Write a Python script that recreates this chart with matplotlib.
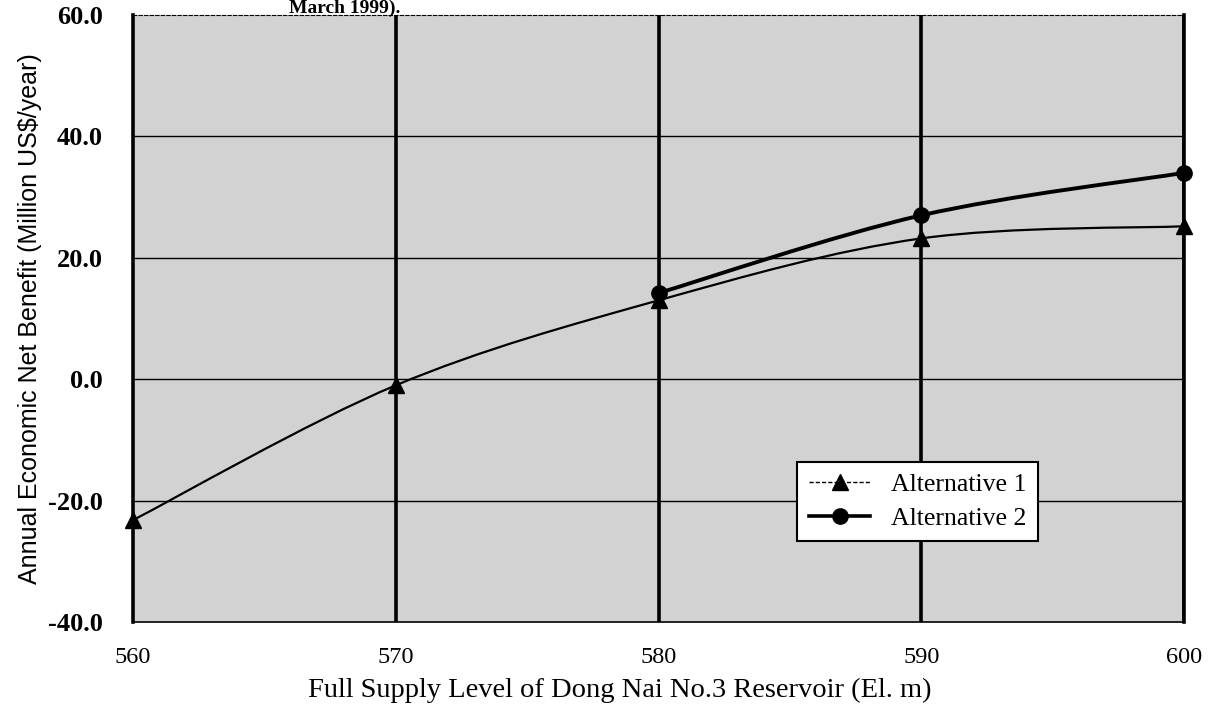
import numpy as np
import matplotlib
matplotlib.use('Agg')
import matplotlib.pyplot as plt
from matplotlib.path import Path
from matplotlib.patches import PathPatch
from matplotlib.lines import Line2D

# data
levels_alt1 = [560, 570, 580, 590, 600]
benefit_alt1 = [-23.2, -1.0, 13.0, 23.2, 25.2]
levels_alt2 = [580, 590, 600]
benefit_alt2 = [14.2, 27.0, 34.0]

x_ticks = [560, 570, 580, 590, 600]
y_ticks = [-40, -20, 0, 20, 40, 60]


def smooth_path(xs, ys):
    # Excel style smoothed line: cubic bezier through the points (Catmull-Rom)
    pts = np.column_stack([xs, ys]).astype(float)
    verts = [pts[0]]
    codes = [Path.MOVETO]
    n = len(pts)
    for i in range(n - 1):
        p0 = pts[i - 1] if i > 0 else pts[i]
        p1 = pts[i]
        p2 = pts[i + 1]
        p3 = pts[i + 2] if i + 2 < n else pts[i + 1]
        c1 = p1 + (p2 - p0) / 6.0
        c2 = p2 - (p3 - p1) / 6.0
        verts += [c1, c2, p2]
        codes += [Path.CURVE4] * 3
    return Path(verts, codes)


fig = plt.figure(figsize=(12.1, 7.15), dpi=100)
ax = fig.add_axes([0.110, 0.130, 0.8685, 0.849])
ax.set_facecolor('#d2d2d2')

ax.set_xlim(560, 600)
ax.set_ylim(-40, 60)

# grid: thick vertical, thin horizontal
for xv in x_ticks[1:]:
    ax.axvline(xv, color='black', lw=2.6, zorder=1)
for yv in y_ticks[1:-1]:
    ax.axhline(yv, color='black', lw=1.0, zorder=1)

ax.add_patch(PathPatch(smooth_path(levels_alt1, benefit_alt1), fill=False,
                       edgecolor='black', lw=1.6, zorder=3))
ax.add_patch(PathPatch(smooth_path(levels_alt2, benefit_alt2), fill=False,
                       edgecolor='black', lw=2.8, zorder=3))
ax.plot(levels_alt1, benefit_alt1, linestyle='none', marker='^', ms=11,
        color='black', zorder=4, clip_on=False)
ax.plot(levels_alt2, benefit_alt2, linestyle='none', marker='o', ms=11,
        color='black', zorder=4, clip_on=False)

for side in ['left', 'right']:
    ax.spines[side].set_linewidth(2.6)
ax.spines['top'].set_linewidth(0.8)
ax.spines['top'].set_linestyle((0, (3, 2)))
ax.spines['bottom'].set_linewidth(1.2)

ax.set_xticks(x_ticks)
ax.set_xticklabels([str(v) for v in x_ticks], family='Liberation Serif',
                   fontsize=17.5)
ax.set_yticks(y_ticks)
ax.set_yticklabels(['%.1f' % v for v in y_ticks], family='Liberation Serif',
                   fontsize=19, fontweight='bold')
ax.tick_params(axis='both', length=0)
ax.tick_params(axis='x', pad=18)
ax.tick_params(axis='y', pad=22)

ax.set_xlabel('Full Supply Level of Dong Nai No.3 Reservoir (El. m)',
              family='Liberation Serif', fontsize=20.5, labelpad=7)
ax.xaxis.label.set_x(0.463)
ax.set_ylabel('Annual Economic Net Benefit (Million US$/year)',
              family='Liberation Sans', fontsize=18, labelpad=4)

handles = [
    Line2D([], [], color='black', lw=1.0, ls=(0, (3, 1.5)), marker='^', ms=11),
    Line2D([], [], color='black', lw=2.6, marker='o', ms=11),
]
leg = ax.legend(handles, ['Alternative 1', 'Alternative 2'],
                loc='lower left', bbox_to_anchor=(0.632, 0.133),
                borderaxespad=0,
                prop={'family': 'Liberation Serif', 'size': 18.5},
                frameon=True, fancybox=False, framealpha=1,
                edgecolor='black', handlelength=2.4, borderpad=0.45,
                labelspacing=0.4, handletextpad=0.8)
leg.get_frame().set_linewidth(1.5)

# caption line at the top of the scanned page
fig.text(0.285, 1.0, 'March 1999).', family='Liberation Serif',
         fontsize=14, fontweight='bold', ha='center', va='top')

fig.savefig('out.png', dpi=100)
